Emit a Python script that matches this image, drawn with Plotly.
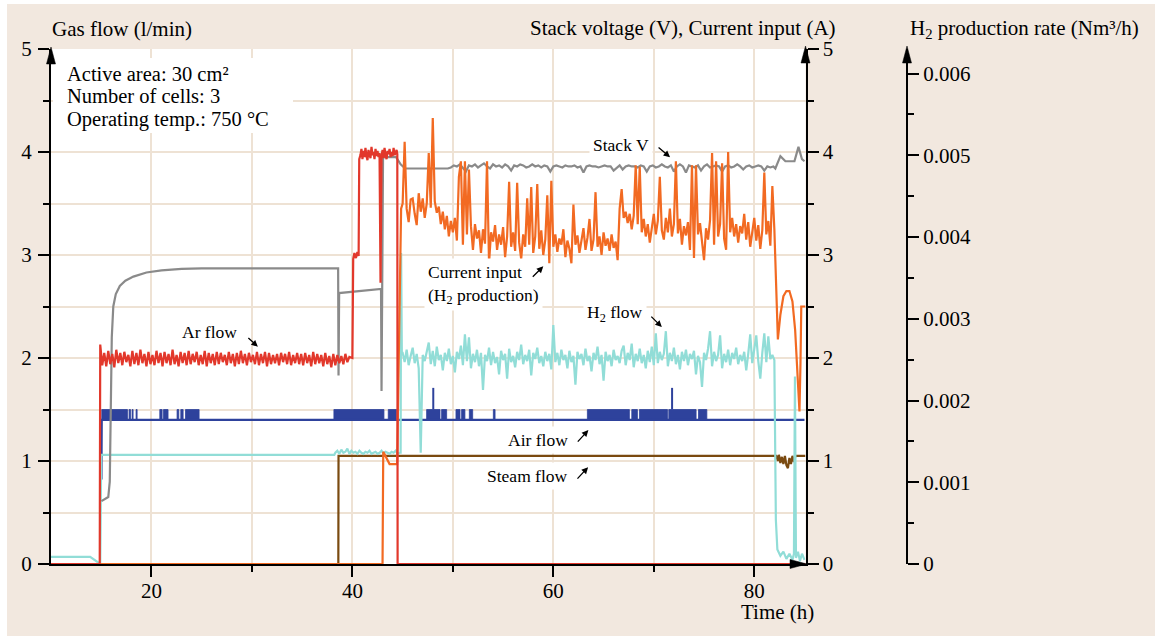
import plotly.graph_objects as go

# ======================= DATA =======================
# --- Ar flow (l/min) ---
ar_pre_t = [10.0, 14.85]
ar_pre_v = [0.0, 0.0]
ar_zig_start, ar_zig_step = 14.9, 0.2
ar_zig_v = [
    2.13, 1.93, 2.05, 1.92, 2.07, 1.94, 2.04, 1.91, 2.08, 1.95,
    2.05, 1.93, 2.06, 1.96, 2.03, 1.92, 2.07, 1.94, 2.05, 1.93,
    2.08, 1.95, 2.04, 1.92, 2.06, 1.94, 2.03, 1.93, 2.07, 1.95,
    2.05, 1.92, 2.06, 1.95, 2.04, 1.93, 2.08, 1.94, 2.03, 1.92,
    2.06, 1.95, 2.05, 1.93, 2.07, 1.94, 2.04, 1.96, 2.06, 1.93,
    2.03, 1.94, 2.07, 1.92, 2.05, 1.95, 2.04, 1.93, 2.06, 1.94,
    2.05, 1.96, 2.03, 1.93, 2.06, 1.95, 2.04, 1.92, 2.05, 1.94,
    2.07, 1.95, 2.04, 1.93, 2.05, 1.96, 2.03, 1.94, 2.06, 1.93,
    2.04, 1.95, 2.06, 1.92, 2.05, 1.94, 2.03, 1.95, 2.04, 1.93,
    2.05, 1.96, 2.04, 1.94, 2.06, 1.93, 2.03, 1.95, 2.05, 1.94,
    2.04, 1.93, 2.05, 1.95, 2.03, 1.92, 2.06, 1.94, 2.04, 1.95,
    2.03, 1.92, 2.05, 1.94, 2.02, 1.91, 2.04, 1.93, 2.03, 1.95,
    2.02, 1.94, 2.04, 1.96, 2.01,
]
ar_mid_t = [40.0, 40.08, 40.2, 40.35, 40.5, 40.62, 40.68]
ar_mid_v = [2.0, 2.96, 3.02, 2.97, 3.03, 2.99, 3.93]
ar_high_start, ar_high_step = 40.8, 0.1
ar_high_v = [
    3.97, 4.03, 3.93, 4.01, 3.95, 4.04, 3.96, 3.92, 4.02, 3.98,
    3.94, 4.05, 3.97, 4.00, 3.93, 4.03, 3.96, 4.01, 3.95, 3.99,
    2.73, 3.96, 4.02, 3.94, 4.04, 3.97, 3.93, 4.01, 3.98, 4.03,
    3.95, 4.00, 3.96, 4.04, 3.97, 3.99, 4.02,
]
ar_end_t = [44.47, 44.5, 85.1]
ar_end_v = [3.98, 0.0, 0.0]

# --- Stack voltage (V) ---
sv_pre_t = [15.02, 15.7, 15.85, 15.95, 16.05, 16.2, 16.45, 16.85, 17.4, 18.2,
            19.5, 21.0, 23.0, 25.0, 38.58, 38.62, 38.68, 42.85, 42.9, 43.05,
            44.35, 44.8, 45.25, 49.5]
sv_pre_v = [0.61, 0.65, 0.8, 1.5, 2.2, 2.5, 2.62, 2.7, 2.75, 2.79,
            2.83, 2.85, 2.865, 2.87, 2.87, 1.83, 2.63, 2.67, 1.68, 3.95,
            3.95, 3.88, 3.84, 3.84]
sv_noise_start, sv_noise_step = 49.8, 0.3
sv_noise_v = [
    3.85, 3.87, 3.86, 3.88, 3.85, 3.81, 3.87, 3.86, 3.88, 3.85,
    3.87, 3.89, 3.86, 3.84, 3.88, 3.86, 3.87, 3.85, 3.88, 3.86,
    3.82, 3.87, 3.86, 3.88, 3.87, 3.85, 3.86, 3.88, 3.86, 3.87,
    3.85, 3.87, 3.86, 3.81, 3.86, 3.87, 3.86, 3.85, 3.87, 3.86,
    3.86, 3.87, 3.85, 3.86, 3.80, 3.86, 3.87, 3.86, 3.86, 3.85,
    3.86, 3.87, 3.86, 3.86, 3.82, 3.85, 3.87, 3.83, 3.86, 3.87,
    3.86, 3.86, 3.85, 3.87, 3.86, 3.81, 3.86, 3.87, 3.85, 3.86,
    3.88, 3.86, 3.85, 3.87, 3.81, 3.86, 3.88, 3.86, 3.80, 3.87,
    3.86, 3.85, 3.87, 3.82, 3.86, 3.88, 3.85, 3.86, 3.87, 3.86,
    3.81, 3.86, 3.87, 3.85, 3.86, 3.88, 3.86, 3.83, 3.86, 3.87,
    3.85, 3.86, 3.87, 3.86, 3.82, 3.86, 3.85, 3.86,
]
sv_end_t = [82.1, 82.6, 83.1, 84.0, 84.4, 84.75, 85.0]
sv_end_v = [3.84, 3.96, 3.91, 3.91, 4.05, 3.93, 3.91]

# --- Current input (A) ---
ci_pre_t = [10.0, 43.0, 43.07, 43.7, 44.45, 44.85]
ci_pre_v = [0.0, 0.0, 1.09, 0.97, 0.97, 3.45]
ci_noise_start, ci_noise_step = 45.0, 0.2
ci_noise_v = [
    3.50, 4.10, 3.45, 3.32, 3.54, 3.55, 3.40, 3.29, 3.60, 3.42,
    3.55, 3.36, 3.50, 3.99, 3.46, 4.33, 3.52, 3.41, 3.47, 3.30,
    3.42, 3.25, 3.38, 3.18, 3.33, 3.22, 3.36, 3.14, 3.76, 3.91,
    3.10, 3.91, 3.20, 3.83, 3.28, 3.05, 3.30, 3.16, 3.24, 3.02,
    3.25, 3.11, 3.91, 2.92, 3.22, 3.13, 3.29, 3.05, 3.20, 3.10,
    3.27, 2.98, 3.18, 3.71, 3.08, 3.22, 3.04, 3.70, 3.12, 2.96,
    3.20, 3.08, 3.55, 3.10, 3.66, 3.02, 3.18, 3.69, 3.06, 3.24,
    3.00, 3.15, 3.58, 2.92, 3.72, 3.08, 3.20, 3.03, 3.16, 3.10,
    3.25, 2.98, 3.14, 3.06, 2.92, 3.49, 3.10, 3.19, 3.02, 3.14,
    3.26, 3.05, 3.17, 3.35, 3.04, 3.15, 3.61, 3.08, 3.18, 3.00,
    3.22, 3.09, 3.16, 3.04, 3.20, 3.07, 3.13, 2.95, 3.45, 3.64,
    3.36, 3.42, 3.31, 3.40, 3.25, 3.38, 3.87, 3.30, 3.86, 3.22,
    3.35, 3.18, 3.30, 3.12, 3.28, 3.40, 3.20, 3.33, 3.76, 3.24,
    3.15, 3.36, 3.22, 3.45, 3.18, 3.30, 3.91, 3.21, 3.35, 3.10,
    3.28, 3.19, 3.32, 3.05, 3.87, 2.97, 3.87, 3.20, 3.31, 3.12,
    2.95, 3.26, 3.15, 3.34, 3.99, 3.10, 3.91, 3.18, 3.30, 3.89,
    3.16, 3.05, 4.00, 3.22, 3.36, 3.18, 3.30, 3.12, 3.28, 3.21,
    3.40, 3.15, 3.32, 3.08, 3.25, 3.36, 3.14, 3.29, 3.06, 3.24,
    3.80, 3.20, 3.33, 3.09, 3.67, 3.25,
]
ci_end_t = [82.35, 82.6, 82.9, 83.2, 83.5, 83.8, 84.07, 84.3, 84.5, 84.6, 84.68, 85.1]
ci_end_v = [2.18, 2.42, 2.60, 2.65, 2.65, 2.55, 2.27, 1.85, 1.48, 1.95, 2.50, 2.50]

# --- H2 flow (l/min) ---
h2_pre_t = [10.0, 13.9, 14.9, 15.0, 38.2]
h2_pre_v = [0.07, 0.07, 0.0, 1.06, 1.06]
h2_low_start, h2_low_step = 38.3, 0.2
h2_low_v = [
    1.08, 1.10, 1.07, 1.11, 1.08, 1.09, 1.12, 1.07, 1.10, 1.08,
    1.09, 1.07, 1.10, 1.08, 1.07, 1.09, 1.08, 1.10, 1.07, 1.08,
    1.09, 1.07, 1.08, 1.10, 1.07, 1.09, 1.08, 1.07, 1.09, 1.08,
    1.10, 1.07, 1.08,
]
h2_jump_t = [44.8, 44.85, 44.92]
h2_jump_v = [1.08, 3.02, 2.05]
h2_noise_start, h2_noise_step = 45.0, 0.2
h2_noise_v = [
    2.05, 1.96, 2.08, 1.93, 2.02, 2.10, 1.95, 2.04, 1.90, 1.08,
    2.03, 1.97, 2.06, 2.15, 1.94, 2.07, 1.92, 2.11, 1.98, 2.03,
    1.88, 2.05, 1.97, 2.09, 1.94, 2.02, 1.86, 2.06, 1.99, 2.12,
    1.93, 2.23, 1.97, 2.20, 1.90, 2.04, 1.96, 2.08, 1.92, 2.05,
    1.69, 2.03, 1.97, 2.10, 1.93, 2.06, 1.95, 2.01, 1.84, 2.07,
    1.98, 2.04, 1.80, 2.09, 1.96, 2.02, 1.91, 2.06, 1.98, 2.13,
    1.94, 2.03, 1.97, 2.08, 1.83, 2.05, 1.99, 2.10, 1.95, 2.02,
    1.92, 2.06, 1.97, 2.04, 1.89, 2.32, 1.96, 2.05, 1.93, 2.08,
    1.98, 2.03, 1.90, 2.07, 1.96, 2.02, 1.74, 2.06, 1.99, 2.04,
    1.93, 2.09, 1.97, 2.02, 1.87, 2.05, 1.98, 2.11, 1.94, 2.03,
    1.78, 2.06, 1.97, 2.03, 1.92, 2.08, 1.98, 2.02, 1.95, 2.07,
    2.12, 1.93, 2.05, 1.98, 2.14, 1.91, 2.04, 1.97, 2.09, 1.95,
    2.03, 1.90, 2.07, 1.96, 2.11, 1.93, 2.24, 1.95, 2.06, 1.98,
    2.04, 2.26, 1.92, 2.05, 1.97, 2.10, 1.94, 2.03, 1.89, 2.06,
    1.97, 2.08, 1.93, 2.04, 1.99, 2.07, 1.84, 2.02, 1.96, 1.72,
    2.05, 1.98, 2.09, 2.26, 1.92, 2.06, 1.97, 2.03, 2.22, 1.90,
    2.04, 1.96, 2.08, 1.93, 2.05, 1.99, 2.10, 1.94, 2.03, 1.97,
    2.06, 1.88, 2.04, 2.23, 1.95, 2.07, 2.22, 1.97, 1.80, 2.05,
    2.24, 1.96, 2.21, 1.99, 2.03, 1.98,
]
h2_end_t = [82.15, 82.3, 82.6, 82.9, 83.2, 83.5, 83.8, 83.95, 84.05, 84.15, 84.35, 84.55, 84.75, 85.0]
h2_end_v = [0.43, 0.14, 0.08, 0.12, 0.05, 0.10, 0.04, 0.10, 1.82, 0.06, 0.12, 0.03, 0.10, 0.04]

# --- Air flow (l/min) ---
air_t = [15.02, 15.05, 85.0]
air_v = [0.82, 1.40, 1.40]
air_burst_low, air_burst_high = 1.40, 1.50
air_burst_start = [15.05, 17.77, 18.07, 18.47, 20.83, 21.20, 22.55, 22.92, 23.39, 38.16, 43.57,
                   47.39, 48.88, 50.31, 50.87, 51.64, 54.03, 63.39, 67.81, 68.57, 71.49, 74.45]
air_burst_end = [17.61, 17.91, 18.17, 18.57, 21.06, 21.65, 22.72, 23.15, 24.74, 43.14, 44.40,
                 48.72, 49.38, 50.71, 51.20, 51.97, 54.20, 67.57, 68.37, 71.36, 74.21, 75.28]
air_spike_t = [48.05, 71.82]
air_spike_v = [1.71, 1.71]

# --- Steam flow (l/min) ---
st_t = [10.0, 38.6, 38.62, 82.2, 82.35, 82.45, 82.6, 82.75, 82.9, 83.05, 83.2, 83.35,
        83.5, 83.65, 83.8, 83.95, 84.1, 85.1]
st_v = [0.0, 0.0, 1.05, 1.05, 1.00, 1.06, 0.98, 1.04, 0.97, 1.05, 0.96, 0.93,
        1.03, 0.97, 1.05, 0.99, 1.05, 1.05]

# --- axes / labels ---
x_ticks = [20, 40, 60, 80]
x_minor = [30, 50, 70]
y_ticks = [0, 1, 2, 3, 4, 5]
y_minor = [0.5, 1.5, 2.5, 3.5, 4.5]
h2r_ticks = [0, 0.001, 0.002, 0.003, 0.004, 0.005, 0.006]
h2r_text = ["0", "0.001", "0.002", "0.003", "0.004", "0.005", "0.006"]
h2r_minor = [0.0005, 0.0015, 0.0025, 0.0035, 0.0045, 0.0055]
info_lines = ["Active area: 30 cm²", "Number of cells: 3", "Operating temp.: 750 °C"]


def grid(start, step, n):
    return [round(start + step * i, 4) for i in range(n)]


def series(*parts):
    t, v = [], []
    for pt, pv in parts:
        t += list(pt)
        v += list(pv)
    return t, v


ar_x, ar_y = series((ar_pre_t, ar_pre_v),
                    (grid(ar_zig_start, ar_zig_step, len(ar_zig_v)), ar_zig_v),
                    (ar_mid_t, ar_mid_v),
                    (grid(ar_high_start, ar_high_step, len(ar_high_v)), ar_high_v),
                    (ar_end_t, ar_end_v))
sv_x, sv_y = series((sv_pre_t, sv_pre_v),
                    (grid(sv_noise_start, sv_noise_step, len(sv_noise_v)), sv_noise_v),
                    (sv_end_t, sv_end_v))
ci_x, ci_y = series((ci_pre_t, ci_pre_v),
                    (grid(ci_noise_start, ci_noise_step, len(ci_noise_v)), ci_noise_v),
                    (ci_end_t, ci_end_v))
h2_x, h2_y = series((h2_pre_t, h2_pre_v),
                    (grid(h2_low_start, h2_low_step, len(h2_low_v)), h2_low_v),
                    (h2_jump_t, h2_jump_v),
                    (grid(h2_noise_start, h2_noise_step, len(h2_noise_v)), h2_noise_v),
                    (h2_end_t, h2_end_v))

burst_x, burst_y = [], []
for s, e in zip(air_burst_start, air_burst_end):
    burst_x += [s, e, e, s, s, None]
    burst_y += [air_burst_low, air_burst_low, air_burst_high, air_burst_high, air_burst_low, None]
spike_x, spike_y = [], []
for t, v in zip(air_spike_t, air_spike_v):
    spike_x += [t, t, None]
    spike_y += [air_burst_high, v, None]

# ======================= STYLE =======================
RED = "#e2382b"
ORANGE = "#f26a22"
GRAY = "#8a8a8a"
CYAN = "#91ddd7"
BLUE = "#2e429c"
BROWN = "#7a4a10"
GRIDC = "#eee2d4"
PAPER = "#f2e8df"
FONT = "Liberation Serif"
LW = 2.2

W, H = 1155, 636
L, R, T, B = 51, 248, 49, 72
PW, PH = W - L - R, H - T - B


def px(x):
    return (x - L) / PW


def py(y):
    return (H - B - y) / PH


fig = go.Figure()
# gas flows on the left axis (y)
fig.add_trace(go.Scatter(x=st_t, y=st_v, mode="lines",
                         line=dict(color=BROWN, width=LW), hoverinfo="skip"))
fig.add_trace(go.Scatter(x=burst_x, y=burst_y, mode="lines", fill="toself",
                         fillcolor=BLUE, line=dict(color=BLUE, width=0.8), hoverinfo="skip"))
fig.add_trace(go.Scatter(x=air_t, y=air_v, mode="lines",
                         line=dict(color=BLUE, width=LW), hoverinfo="skip"))
fig.add_trace(go.Scatter(x=spike_x, y=spike_y, mode="lines",
                         line=dict(color=BLUE, width=2), hoverinfo="skip"))
fig.add_trace(go.Scatter(x=h2_x, y=h2_y, mode="lines",
                         line=dict(color=CYAN, width=LW), hoverinfo="skip"))
# voltage / current on the right axis (y2); Ar flow drawn last (same 0-5 scale) so it sits on top
fig.add_trace(go.Scatter(x=sv_x, y=sv_y, mode="lines", yaxis="y2",
                         line=dict(color=GRAY, width=LW), hoverinfo="skip"))
fig.add_trace(go.Scatter(x=ci_x, y=ci_y, mode="lines", yaxis="y2",
                         line=dict(color=ORANGE, width=LW), hoverinfo="skip"))
fig.add_trace(go.Scatter(x=ar_x, y=ar_y, mode="lines", yaxis="y2",
                         line=dict(color=RED, width=LW), hoverinfo="skip"))
# empty holder so the H2 production-rate axis is drawn
fig.add_trace(go.Scatter(x=[None], y=[None], mode="lines", yaxis="y3",
                         hoverinfo="skip", showlegend=False))

tickfont = dict(family=FONT, size=21, color="black")
fig.update_layout(
    width=W, height=H, showlegend=False,
    margin=dict(l=L, r=R, t=T, b=B, pad=0),
    paper_bgcolor=PAPER, plot_bgcolor="white",
    font=dict(family=FONT, size=21, color="black"),
    xaxis=dict(range=[10, 85.1], domain=[0, px(805.5)], tickmode="array", tickvals=x_ticks,
               ticks="outside", ticklen=11, tickwidth=1.5, tickcolor="black",
               showline=True, linecolor="black", linewidth=2, showgrid=True,
               gridcolor=GRIDC, gridwidth=2, zeroline=False, tickfont=tickfont,
               ticklabelstandoff=-4,
               minor=dict(tickmode="array", tickvals=x_minor, ticks="outside", ticklen=6,
                          tickwidth=1.5, tickcolor="black", showgrid=True,
                          gridcolor=GRIDC, gridwidth=2)),
    yaxis=dict(range=[0, 5], tickmode="array", tickvals=y_ticks,
               ticks="outside", ticklen=11, tickwidth=1.5, tickcolor="black",
               showline=True, linecolor="black", linewidth=2, showgrid=True,
               gridcolor=GRIDC, gridwidth=2, zeroline=False, tickfont=tickfont,
               ticklabelstandoff=2,
               minor=dict(tickmode="array", tickvals=y_minor, ticks="outside", ticklen=6,
                          tickwidth=1.5, tickcolor="black", showgrid=True,
                          gridcolor=GRIDC, gridwidth=2)),
    yaxis2=dict(range=[0, 5], overlaying="y", side="right", anchor="x",
                tickmode="array", tickvals=y_ticks,
                ticks="outside", ticklen=11, tickwidth=1.5, tickcolor="black",
                showline=True, linecolor="black", linewidth=2, showgrid=False,
                zeroline=False, tickfont=tickfont,
                minor=dict(tickmode="array", tickvals=y_minor, ticks="outside", ticklen=6,
                           tickwidth=1.5, tickcolor="black", showgrid=False)),
    yaxis3=dict(range=[0, 0.0063], overlaying="y", side="right", anchor="free", position=1.0,
                tickmode="array", tickvals=h2r_ticks, ticktext=h2r_text,
                ticks="outside", ticklen=11, tickwidth=1.5, tickcolor="black",
                showline=True, linecolor="black", linewidth=2, showgrid=False,
                zeroline=False, tickfont=tickfont,
                minor=dict(tickmode="array", tickvals=h2r_minor, ticks="outside", ticklen=6,
                           tickwidth=1.5, tickcolor="black", showgrid=False)),
)

shapes = []
# white outer border strips
shapes.append(dict(type="rect", xref="paper", yref="paper", x0=px(0), x1=px(7), y0=py(H), y1=py(0),
                   fillcolor="white", line=dict(width=0), layer="below"))
shapes.append(dict(type="rect", xref="paper", yref="paper", x0=px(0), x1=px(W), y0=py(4), y1=py(0),
                   fillcolor="white", line=dict(width=0), layer="below"))
# white box behind info text
shapes.append(dict(type="rect", xref="paper", yref="paper", x0=px(53), x1=px(293), y0=py(133), y1=py(58),
                   fillcolor="white", line=dict(width=0), layer="above"))


def tri(tip, b1, b2):
    return "M {},{} L {},{} L {},{} Z".format(px(tip[0]), py(tip[1]), px(b1[0]), py(b1[1]),
                                             px(b2[0]), py(b2[1]))


for tip, b1, b2 in [((51, 47), (46.5, 64), (55.5, 64)),
                    ((805.5, 46), (801, 63), (810, 63)),
                    ((907, 46), (902.5, 63), (911.5, 63)),
                    ((807, 564), (790, 559.5), (790, 568.5))]:
    shapes.append(dict(type="path", xref="paper", yref="paper", path=tri(tip, b1, b2),
                       fillcolor="black", line=dict(color="black", width=0.5), layer="above"))
fig.update_layout(shapes=shapes)

ann = []
# axis titles
ann.append(dict(text="Gas flow (l/min)", xref="paper", yref="paper", x=px(50), y=py(29),
                xanchor="left", yanchor="middle", showarrow=False, font=dict(size=21)))
ann.append(dict(text="Stack voltage (V), Current input (A)", xref="paper", yref="paper",
                x=px(838), y=py(28), xanchor="right", yanchor="middle", showarrow=False,
                font=dict(size=21)))
ann.append(dict(text="H<sub>2</sub> production rate (Nm³/h)", xref="paper", yref="paper",
                x=px(908), y=py(29), xanchor="left", yanchor="middle", showarrow=False,
                font=dict(size=21)))
ann.append(dict(text="Time (h)", xref="paper", yref="paper", x=px(777), y=py(612),
                xanchor="center", yanchor="middle", showarrow=False, font=dict(size=21)))
# info lines
for i, line in enumerate(info_lines):
    ann.append(dict(text=line, xref="paper", yref="paper", x=px(65), y=py(74 + 22.5 * i),
                    xanchor="left", yanchor="middle", showarrow=False, font=dict(size=20.5)))

LBL = dict(size=17.5)
labels = [
    ("Stack V", 66.69, 4.07, "center"),
    ("Current input<br>(H<sub>2</sub> production)", 47.1, 2.716, "left"),
    ("H<sub>2</sub> flow", 66.1, 2.43, "center"),
    ("Air flow", 58.46, 1.20, "center"),
    ("Steam flow", 57.43, 0.85, "center"),
    ("Ar flow", 25.76, 2.25, "center"),
]
for text, x, y, anc in labels:
    ann.append(dict(text=text, x=x, y=y, xref="x", yref="y", xanchor=anc, yanchor="middle",
                    align="left", showarrow=False, bgcolor="white", borderpad=3, font=LBL))
pointers = [
    (71.62, 3.95, -13, -11),
    (59.0, 2.89, -12, 12),
    (70.8, 2.30, -12, -12),
    (63.49, 1.30, -12, 13),
    (63.46, 0.94, -12, 13),
    (30.59, 2.11, -11, -10),
]
for x, y, ax, ay in pointers:
    ann.append(dict(text="", x=x, y=y, xref="x", yref="y", ax=ax, ay=ay, showarrow=True,
                    arrowhead=2, arrowsize=1, arrowwidth=1.3, arrowcolor="black", standoff=0))
fig.update_layout(annotations=ann)

fig.write_html("out.html", config={"displayModeBar": False})
